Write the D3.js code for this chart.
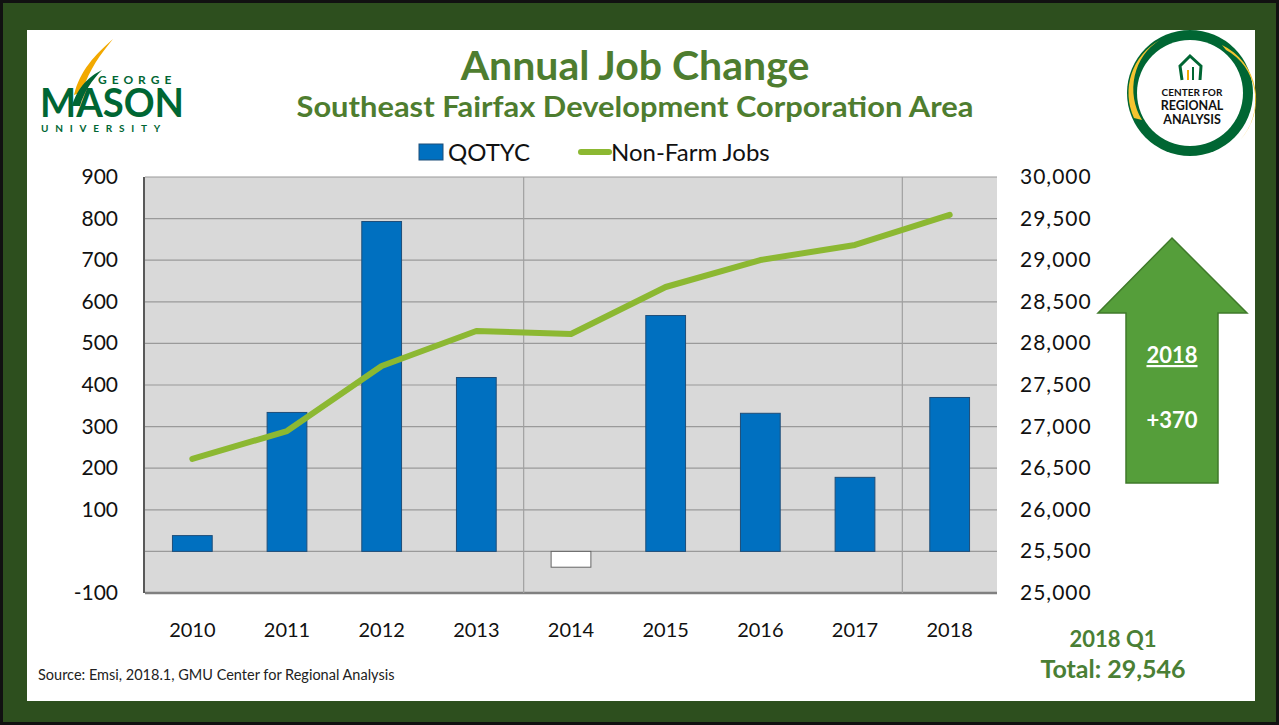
<!DOCTYPE html>
<html>
<head>
<meta charset="utf-8">
<script src="https://d3js.org/d3.v7.min.js"></script>
<style>
  body { margin:0; background:#000; }
  svg text { font-family: Lato, "Open Sans", sans-serif; }
</style>
</head>
<body>
<script>
// chart data
var years = ["2010","2011","2012","2013","2014","2015","2016","2017","2018"];
var qotyc = [38, 334, 793, 418, -38, 567, 332, 178, 370];
var nonFarmJobs = [26611, 26947, 27728, 28149, 28113, 28678, 29002, 29183, 29546];
var leftTicks = [-100, 0, 100, 200, 300, 400, 500, 600, 700, 800, 900];
var rightTicks = [25000, 25500, 26000, 26500, 27000, 27500, 28000, 28500, 29000, 29500, 30000];

var W = 1279, H = 725;
var svg = d3.select("body").append("svg").attr("width", W).attr("height", H);

// frame
svg.append("rect").attr("width", W).attr("height", H).attr("fill", "#111");
svg.append("rect").attr("x", 3).attr("y", 3).attr("width", W - 6).attr("height", H - 6).attr("fill", "#2d4f1e");
svg.append("rect").attr("x", 27).attr("y", 30).attr("width", 1228).attr("height", 671).attr("fill", "#fff");

var green = "#4e7d2f";

// titles
svg.append("text").attr("x", 635).attr("y", 80).attr("text-anchor", "middle")
  .attr("font-size", 41).attr("font-weight", "bold").attr("fill", green).text("Annual Job Change");
svg.append("text").attr("x", 635).attr("y", 117).attr("text-anchor", "middle")
  .attr("font-size", 29).attr("font-weight", "bold").attr("fill", green)
  .attr("textLength", 677).attr("lengthAdjust", "spacingAndGlyphs")
  .text("Southeast Fairfax Development Corporation Area");

// scales
var x = d3.scaleBand().domain(years).range([145, 997]);
var yL = d3.scaleLinear().domain([-100, 900]).range([593, 177]);
var yR = d3.scaleLinear().domain([25000, 30000]).range([593, 177]);

var plot = svg.append("g");
plot.append("rect").attr("x", 145).attr("y", 177).attr("width", 852).attr("height", 416).attr("fill", "#d9d9d9");

// horizontal gridlines
plot.selectAll("line.h").data(leftTicks).enter().append("line")
  .attr("x1", 145).attr("x2", 997)
  .attr("y1", function(d){ return yL(d); }).attr("y2", function(d){ return yL(d); })
  .attr("stroke", function(d){ return d === -100 ? "#808080" : "#9a9a9a"; })
  .attr("stroke-width", function(d){ return d === -100 ? 2.5 : 1.2; });

// the two vertical gridlines
plot.selectAll("line.v").data(["2014", "2018"]).enter().append("line")
  .attr("x1", function(d){ return x(d); }).attr("x2", function(d){ return x(d); })
  .attr("y1", 177).attr("y2", 593).attr("stroke", "#a0a0a0").attr("stroke-width", 1.2);

// left axis line
plot.append("line").attr("x1", 144).attr("x2", 144).attr("y1", 177).attr("y2", 593)
  .attr("stroke", "#222").attr("stroke-width", 1.5);

// bars
var bw = x.bandwidth() * 0.42;
plot.selectAll("rect.bar").data(qotyc).enter().append("rect")
  .attr("x", function(d, i){ return x(years[i]) + (x.bandwidth() - bw) / 2; })
  .attr("y", function(d){ return yL(Math.max(0, d)); })
  .attr("width", bw)
  .attr("height", function(d){ return Math.abs(yL(d) - yL(0)); })
  .attr("fill", function(d){ return d < 0 ? "#fff" : "#0070c0"; })
  .attr("stroke", function(d){ return d < 0 ? "#666" : "#1f4e79"; })
  .attr("stroke-width", 1);

// line
var line = d3.line()
  .x(function(d, i){ return x(years[i]) + x.bandwidth() / 2; })
  .y(function(d){ return yR(d); });
plot.append("path").datum(nonFarmJobs).attr("d", line)
  .attr("fill", "none").attr("stroke", "#8cb832").attr("stroke-width", 6)
  .attr("stroke-linecap", "round").attr("stroke-linejoin", "round");

// axis labels
svg.append("g").selectAll("text").data(leftTicks).enter().append("text")
  .attr("x", 118).attr("y", function(d){ return yL(d) + 7; })
  .attr("text-anchor", "end").attr("font-size", 21).attr("fill", "#111")
  .text(function(d){ return d === 0 ? "" : d; });
svg.append("g").selectAll("text").data(rightTicks).enter().append("text")
  .attr("x", 1020).attr("y", function(d){ return yR(d) + 7; })
  .attr("font-size", 21).attr("letter-spacing", 1).attr("fill", "#111")
  .text(function(d){ return d3.format(",")(d); });
svg.append("g").selectAll("text").data(years).enter().append("text")
  .attr("x", function(d){ return x(d) + x.bandwidth() / 2; }).attr("y", 637)
  .attr("text-anchor", "middle").attr("font-size", 20).attr("fill", "#111")
  .text(function(d){ return d; });

// legend
svg.append("rect").attr("x", 419).attr("y", 144).attr("width", 24).attr("height", 16)
  .attr("fill", "#0070c0").attr("stroke", "#1f4e79");
svg.append("text").attr("x", 448).attr("y", 161).attr("font-size", 24).attr("fill", "#111").text("QOTYC");
svg.append("line").attr("x1", 581).attr("x2", 609).attr("y1", 152).attr("y2", 152)
  .attr("stroke", "#8cb832").attr("stroke-width", 6).attr("stroke-linecap", "round");
svg.append("text").attr("x", 611).attr("y", 161).attr("font-size", 24).attr("fill", "#111").text("Non-Farm Jobs");

// arrow
svg.append("path")
  .attr("d", "M1172,238 L1247,313 L1218,313 L1218,483 L1126,483 L1126,313 L1098,313 Z")
  .attr("fill", "#559e3a").attr("stroke", "#3f7a2a").attr("stroke-width", 1.5);
svg.append("text").attr("x", 1172).attr("y", 363).attr("text-anchor", "middle")
  .attr("font-size", 22).attr("font-weight", "bold").attr("fill", "#fff")
  .attr("text-decoration", "underline").text("2018");
svg.append("text").attr("x", 1172).attr("y", 428).attr("text-anchor", "middle")
  .attr("font-size", 22).attr("font-weight", "bold").attr("fill", "#fff").text("+370");

svg.append("text").attr("x", 1113).attr("y", 647).attr("text-anchor", "middle")
  .attr("font-size", 22).attr("font-weight", "bold").attr("fill", "#4a7f35").text("2018 Q1");
svg.append("text").attr("x", 1113).attr("y", 678).attr("text-anchor", "middle")
  .attr("font-size", 25).attr("font-weight", "bold").attr("fill", "#4a7f35").text("Total: 29,546");

// source
svg.append("text").attr("x", 38).attr("y", 680).attr("font-size", 14.5).attr("fill", "#222")
  .text("Source: Emsi, 2018.1, GMU Center for Regional Analysis");

// GMU logo
var gmu = svg.append("g");
gmu.append("path").attr("d", "M74,95 C80,70 95,55 113,39 C100,55 90,68 82,92 Z").attr("fill", "#f2a900");
gmu.append("path").attr("d", "M72,106 C78,86 90,76 102,70 C92,80 84,92 80,106 Z").attr("fill", "#006633");
gmu.append("text").attr("x", 98).attr("y", 84).attr("font-size", 12).attr("font-weight", "bold")
  .attr("letter-spacing", 5).attr("fill", "#006633").text("GEORGE");
gmu.append("text").attr("x", 40).attr("y", 117).attr("font-size", 40).attr("font-weight", "bold")
  .attr("font-family", "'Liberation Serif', serif").attr("textLength", 144).attr("lengthAdjust", "spacingAndGlyphs")
  .attr("fill", "#006633").text("MASON");
gmu.append("text").attr("x", 41).attr("y", 132).attr("font-size", 10).attr("font-weight", "bold")
  .attr("letter-spacing", 6.8).attr("fill", "#006633").text("UNIVERSITY");

// CRA logo
var cra = svg.append("g");
cra.append("circle").attr("cx", 1190).attr("cy", 93).attr("r", 63).attr("fill", "#006633");
cra.append("path").attr("d", "M1134,118 A60,60 0 0,1 1160,40 A52,56 0 0,0 1142,120 Z").attr("fill", "#f4c430");
cra.append("path").attr("d", "M1222,45 A60,60 0 0,1 1240,140 A52,56 0 0,0 1226,50 Z").attr("fill", "#f4c430");
cra.append("circle").attr("cx", 1190).attr("cy", 93).attr("r", 53).attr("fill", "#fff");
cra.append("path").attr("d", "M1182,80 L1180,66 L1190,56 L1201,66 L1200,80").attr("fill", "none")
  .attr("stroke", "#006633").attr("stroke-width", 3);
cra.append("line").attr("x1", 1188).attr("x2", 1188).attr("y1", 80).attr("y2", 70).attr("stroke", "#f2a900").attr("stroke-width", 2);
cra.append("line").attr("x1", 1193).attr("x2", 1193).attr("y1", 80).attr("y2", 67).attr("stroke", "#006633").attr("stroke-width", 2);
[["CENTER FOR", 96], ["REGIONAL", 110], ["ANALYSIS", 124]].forEach(function(t){
  cra.append("text").attr("x", 1192).attr("y", t[1]).attr("text-anchor", "middle")
    .attr("font-family", "'Liberation Sans', Arial, sans-serif").attr("font-size", t[0] === "CENTER FOR" ? 10 : 12.5)
    .attr("font-weight", "bold").attr("fill", "#111").text(t[0]);
});
</script>
</body>
</html>
